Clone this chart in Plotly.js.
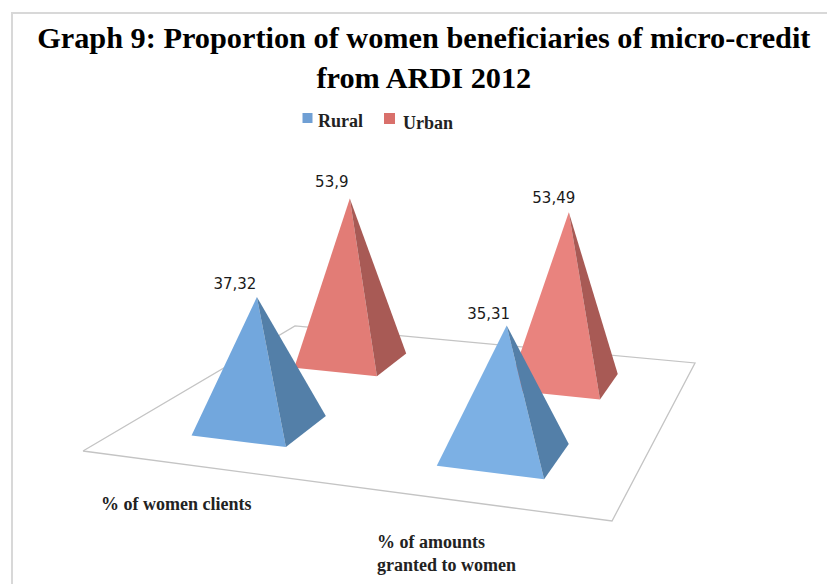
<!DOCTYPE html>
<html><head><meta charset="utf-8">
<script src="https://cdn.plot.ly/plotly-3.0.1.min.js"></script>
<style>html,body{margin:0;padding:0;background:#fff}#chart{width:827px;height:584px}</style>
</head><body><div id="chart"></div>
<script>
// ---- data ----
var categories = ['% of women clients', '% of amounts<br>granted to women'];
var seriesNames = ['Rural', 'Urban'];
var rural = [37.32, 35.31];
var urban = [53.9, 53.49];
var ruralLabels = ['37,32', '35,31'];
var urbanLabels = ['53,9', '53,49'];

// ---- perspective of the floor: (u along categories, v along series) -> pixel axes ----
function den(u, v) { return -0.12716 * u + 0.34888 * v + 1; }
function floorPt(u, v) {
  var d = den(u, v);
  return [(451.2 * u + 314.9 * v + 83) / d, (3.75 * u - 11.3 * v + 451) / d];
}
var HALF = 0.1, LEAN = 0.00018;
function apexPt(u, v, value) {
  var c = floorPt(u, v), h = (3.6 + 0.13 * v) * value / den(u, v);
  return [c[0] + (c[0] - 400) * h * LEAN, c[1] - h];
}
function face(p, q, r, color) {
  return { type: 'scatter', mode: 'lines', x: [p[0], q[0], r[0], p[0]], y: [p[1], q[1], r[1], p[1]],
    fill: 'toself', fillcolor: color, line: { width: 0, color: color }, hoverinfo: 'skip', showlegend: false };
}
function pyramid(catIdx, serIdx, value, frontCol, sideCol) {
  var u = 0.25 + 0.5 * catIdx, v = 0.25 + 0.5 * serIdx;
  var fl = floorPt(u - HALF, v - HALF), fr = floorPt(u + HALF, v - HALF), br = floorPt(u + HALF, v + HALF);
  var a = apexPt(u, v, value);
  return [face(fl, fr, a, frontCol), face(fr, br, a, sideCol)];
}

var traces = [];
var c0 = floorPt(0, 0), c1 = floorPt(1, 0), c2 = floorPt(1, 1), c3 = floorPt(0, 1);
traces.push({ type: 'scatter', mode: 'lines', x: [c0[0], c1[0], c2[0], c3[0], c0[0]], y: [c0[1], c1[1], c2[1], c3[1], c0[1]],
  line: { color: '#c4c4c4', width: 1.3 }, hoverinfo: 'skip', showlegend: false });
var urbanFront = ['#e27c76', '#e9837e'], ruralFront = ['#72a7dd', '#7cb0e4'];
[1, 0].forEach(function (c) { traces = traces.concat(pyramid(c, 1, urban[c], urbanFront[c], '#a85a55')); });
[0, 1].forEach(function (c) { traces = traces.concat(pyramid(c, 0, rural[c], ruralFront[c], '#537fa8')); });

// value labels, placed relative to each apex
var ruralShift = [[-22, -12], [-18, -10]], urbanShift = [[-18, -15], [-15, -13]];
function labelTrace(ser, values, labels, shift) {
  var xs = [], ys = [];
  values.forEach(function (val, c) {
    var a = apexPt(0.25 + 0.5 * c, 0.25 + 0.5 * ser, val);
    xs.push(a[0] + shift[c][0]); ys.push(a[1] + shift[c][1]);
  });
  return { type: 'scatter', mode: 'text', x: xs, y: ys, text: labels, textposition: 'middle center',
    textfont: { family: 'DejaVu Sans', size: 15, color: '#1a1a1a' }, hoverinfo: 'skip', showlegend: false };
}
traces.push(labelTrace(0, rural, ruralLabels, ruralShift));
traces.push(labelTrace(1, urban, urbanLabels, urbanShift));

// legend keys
var legendX = [307.5, 389.5], legendKeyY = [118, 118.5], legendSize = [10, 11], legendTextY = [120.5, 123], legendCol = ['#6f9fd4', '#d9706b'];
seriesNames.forEach(function (n, i) {
  traces.push({ type: 'scatter', mode: 'markers', x: [legendX[i]], y: [legendKeyY[i]], name: n,
    marker: { symbol: 'square', size: legendSize[i], color: legendCol[i] }, hoverinfo: 'name', showlegend: false });
});

var serif = 'Liberation Serif';
var labelFont = { family: serif, size: 18, color: '#222', weight: 700 };
var layout = {
  width: 827, height: 584, margin: { l: 0, r: 0, t: 0, b: 0 }, paper_bgcolor: '#fff', plot_bgcolor: '#fff',
  showlegend: false,
  title: { text: 'Graph 9: Proportion of women beneficiaries of micro-credit<br>from ARDI 2012',
    font: { family: serif, size: 30.3, color: '#000', weight: 700 }, x: 0.5125, xanchor: 'center', y: 0.9175, yanchor: 'top' },
  xaxis: { range: [0, 827], visible: false, fixedrange: true },
  yaxis: { range: [584, 0], visible: false, fixedrange: true },
  shapes: [
    { type: 'line', xref: 'paper', yref: 'paper', x0: 12 / 827, x1: 12 / 827, y0: 0, y1: 1 - 13 / 584, line: { color: '#d8d8d8', width: 2 } },
    { type: 'line', xref: 'paper', yref: 'paper', x0: 11 / 827, x1: 1, y0: 1 - 13 / 584, y1: 1 - 13 / 584, line: { color: '#d8d8d8', width: 2 } }
  ],
  annotations: [
    { x: 99, y: 504, xref: 'x', yref: 'y', xanchor: 'left', yanchor: 'middle', showarrow: false, align: 'left', text: categories[0], font: labelFont },
    { x: 375, y: 553, xref: 'x', yref: 'y', xanchor: 'left', yanchor: 'middle', showarrow: false, align: 'left', text: categories[1], font: labelFont },
    { x: 316, y: legendTextY[0], xref: 'x', yref: 'y', xanchor: 'left', yanchor: 'middle', showarrow: false, text: seriesNames[0], font: labelFont },
    { x: 401, y: legendTextY[1], xref: 'x', yref: 'y', xanchor: 'left', yanchor: 'middle', showarrow: false, text: seriesNames[1], font: labelFont }
  ]
};
Plotly.newPlot('chart', traces, layout, { displayModeBar: false, staticPlot: true });
</script></body></html>
